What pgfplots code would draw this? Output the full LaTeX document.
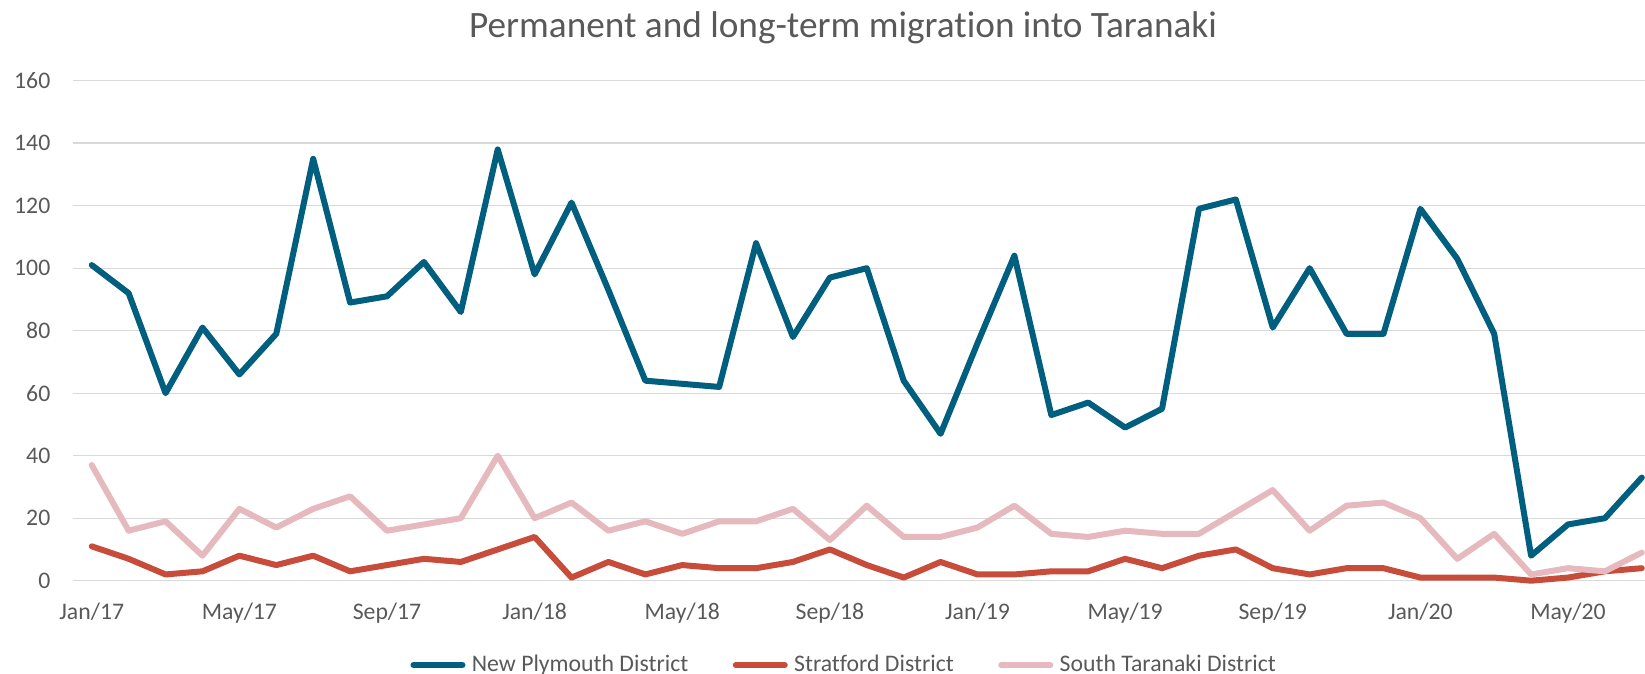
\documentclass[border=0pt]{standalone}
\usepackage{fontspec}
\setmainfont{Carlito}[Ligatures={NoCommon}]
\usepackage{pgfplots}
\usepackage{pgfplotstable}
\pgfplotsset{compat=1.18}
\definecolor{npblue}{HTML}{005E7E}
\definecolor{strred}{HTML}{C74C3A}
\definecolor{stpink}{HTML}{E6B9BE}
\definecolor{txtgray}{HTML}{595959}
\definecolor{gridgray}{HTML}{D9D9D9}

\pgfplotstableread{
idx np st sti
0 101 11 37
1 92 7 16
2 60 2 19
3 81 3 8
4 66 8 23
5 79 5 17
6 135 8 23
7 89 3 27
8 91 5 16
9 102 7 18
10 86 6 20
11 138 10 40
12 98 14 20
13 121 1 25
14 93 6 16
15 64 2 19
16 63 5 15
17 62 4 19
18 108 4 19
19 78 6 23
20 97 10 13
21 100 5 24
22 64 1 14
23 47 6 14
24 76 2 17
25 104 2 24
26 53 3 15
27 57 3 14
28 49 7 16
29 55 4 15
30 119 8 15
31 122 10 22
32 81 4 29
33 100 2 16
34 79 4 24
35 79 4 25
36 119 1 20
37 103 1 7
38 79 1 15
39 8 0 2
40 18 1 4
41 20 3 3
42 33 4 9
}\datatable

\begin{document}
\begin{tikzpicture}
\begin{axis}[
  scale only axis, width=628.68pt, height=200pt,
  xmin=-0.5, xmax=42.087, ymin=0, ymax=160,
  clip=false,
  axis line style={draw=none},
  ytick={0,20,...,160},
  ymajorgrids, grid style={gridgray, line width=0.55pt},
  major tick length=0pt,
  xtick={0,4,...,40},
  xticklabels={Jan/17,May/17,Sep/17,Jan/18,May/18,Sep/18,Jan/19,May/19,Sep/19,Jan/20,May/20},
  ticklabel style={font=\fontsize{9.5}{11}\selectfont, text=txtgray},
  /pgf/number format/assume math mode=true,
  yticklabel style={anchor=east, inner sep=0pt, xshift=-9pt},
  xticklabel style={anchor=base, inner sep=0pt, yshift=-15.44pt},
  legend columns=3,
  legend image code/.code={\draw[#1, line cap=round] (0pt,0pt) -- (19.6pt,0pt); \path (22.16pt,0pt);},
  legend style={at={(axis description cs:0.2142,-0.1686)}, anchor=west, draw=none, fill=none, inner sep=0pt,
    font=\fontsize{9.5}{11}\selectfont, text=txtgray,
    nodes={inner sep=0pt},
    /tikz/every even column/.append style={column sep=17.8pt}},
  every axis plot/.append style={line width=2.4pt, line join=round, line cap=round, mark=none},
]
\addplot[npblue] table[x=idx, y=np] {\datatable};
\addlegendentry{New Plymouth District}
\addplot[strred] table[x=idx, y=st] {\datatable};
\addlegendentry{Stratford District}
\addplot[stpink] table[x=idx, y=sti] {\datatable};
\addlegendentry{South Taranaki District}
\end{axis}
\node[anchor=base west, font=\fontsize{14.9}{17}\selectfont, text=txtgray, inner sep=0pt] at (158.1pt,217.4pt) {Permanent and long-term migration into Taranaki};
\pgfresetboundingbox
\path[use as bounding box] (-29.32pt,-37.32pt) rectangle (628.68pt,232.28pt);
\end{tikzpicture}
\end{document}
